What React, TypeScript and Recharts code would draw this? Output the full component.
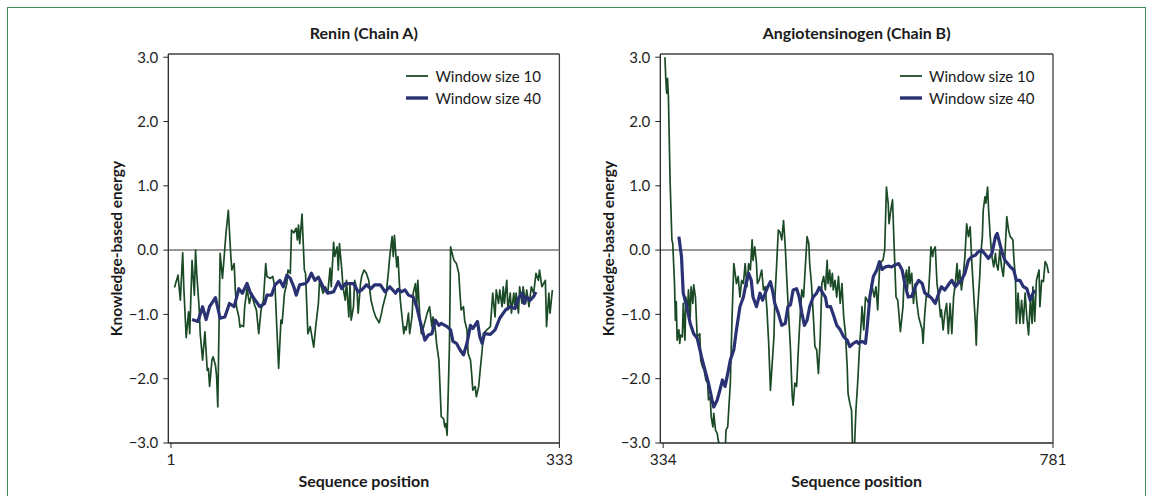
import React from "react";
import { LineChart, Line, XAxis, YAxis, ReferenceLine, Legend } from "recharts";

// [sequence position, knowledge-based energy]
const reninWin10: [number, number][] = [
  [4, -0.58], [7, -0.39], [9, -0.78], [11, -0.04], [12, -0.6], [14, -1.36], [16, -0.96], [17, -1.3],
  [19, -0.16], [21, -0.7], [22, 0.0], [23, -0.36], [25, -0.88], [26, -1.3], [28, -1.71], [30, -1.27],
  [32, -1.87], [33, -1.84], [34, -2.12], [36, -1.71], [37, -1.66], [39, -1.79], [40, -1.97], [41, -2.44],
  [43, -0.05], [45, -0.44], [46, -0.21], [48, 0.26], [50, 0.62], [52, -0.05], [53, -0.31], [55, -0.21],
  [56, -0.62], [57, -0.88], [59, -1.04], [60, -1.2], [61, -1.17], [63, -1.19], [64, -0.88], [66, -0.6],
  [68, -0.83], [70, -0.67], [72, -0.83], [74, -0.93], [76, -1.3], [78, -0.93], [80, -0.78], [82, -0.21],
  [83, -0.41], [86, -0.44], [88, -0.41], [90, -0.6], [93, -1.84], [95, -1.09], [96, -1.14], [98, -0.67],
  [100, -0.52], [101, -0.31], [103, -0.36], [104, 0.31], [106, 0.27], [108, 0.34], [109, 0.16], [110, 0.39],
  [111, 0.1], [113, 0.56], [115, -0.31], [116, -0.36], [118, -1.3], [120, -1.19], [123, -1.51], [125, -1.14],
  [127, -0.83], [128, -0.47], [131, -0.67], [133, -0.57], [135, -0.67], [137, -0.28], [138, -0.57], [140, 0.12],
  [141, -0.1], [143, 0.05], [144, -0.31], [145, 0.1], [147, -0.31], [148, -0.57], [150, -0.78], [151, -0.47],
  [153, -1.04], [154, -0.52], [155, -1.09], [157, -0.88], [158, -0.47], [160, -0.62], [161, -0.98], [163, -0.52],
  [164, -0.41], [166, -0.31], [168, -0.36], [170, -0.47], [172, -0.78], [174, -0.93], [176, -1.04], [179, -1.13],
  [181, -0.98], [182, -0.88], [185, -0.67], [187, -0.31], [188, -0.1], [190, 0.21], [191, -0.1], [192, 0.23],
  [194, -0.26], [195, -0.1], [197, -0.78], [200, -1.3], [201, -1.19], [202, -1.24], [204, -0.98], [205, -1.3],
  [207, -1.04], [208, -0.67], [210, -0.52], [211, -0.88], [212, -0.47], [214, -1.14], [215, -1.3], [217, -1.19],
  [220, -0.98], [222, -0.88], [224, -1.19], [225, -1.04], [227, -1.24], [228, -1.45], [230, -1.71], [232, -2.59],
  [234, -2.62], [235, -2.75], [236, -2.7], [237, -2.88], [239, -1.5], [240, 0.05], [242, -0.1], [243, -0.16],
  [245, -0.21], [247, -0.36], [248, -0.67], [249, -0.93], [251, -0.88], [252, -1.09], [254, -1.24], [255, -1.61],
  [257, -1.71], [258, -1.92], [259, -2.18], [261, -2.12], [262, -2.28], [264, -2.12], [265, -1.92], [267, -1.55],
  [268, -1.3], [271, -1.24], [274, -1.19], [276, -0.67], [278, -1.04], [279, -0.62], [281, -0.83], [282, -0.62],
  [284, -0.88], [285, -0.57], [286, -0.83], [288, -0.47], [289, -0.93], [291, -0.67], [292, -0.98], [294, -0.67],
  [295, -0.88], [296, -0.67], [298, -0.98], [299, -0.57], [301, -0.83], [302, -0.57], [304, -0.83], [305, -0.62],
  [307, -0.88], [309, -0.57], [311, -0.67], [313, -0.36], [315, -0.47], [316, -0.31], [318, -0.57], [321, -0.47],
  [322, -1.19], [324, -0.67], [325, -0.98], [327, -0.62],
];

const reninWin40: [number, number][] = [
  [19, -1.08], [24, -1.11], [28, -0.88], [31, -1.08], [34, -0.88], [39, -0.74], [43, -1.06], [47, -1.04],
  [51, -0.83], [55, -0.88], [59, -0.6], [62, -0.67], [66, -0.52], [69, -0.67], [73, -0.78], [77, -0.88],
  [81, -0.83], [83, -0.7], [87, -0.7], [90, -0.54], [94, -0.47], [97, -0.57], [100, -0.39], [103, -0.44],
  [106, -0.57], [108, -0.7], [111, -0.54], [116, -0.52], [118, -0.48], [121, -0.36], [124, -0.47], [127, -0.42],
  [131, -0.57], [135, -0.67], [140, -0.65], [144, -0.49], [147, -0.6], [150, -0.52], [154, -0.52], [157, -0.52],
  [161, -0.65], [164, -0.62], [168, -0.54], [172, -0.6], [175, -0.54], [180, -0.54], [184, -0.65], [188, -0.57],
  [193, -0.67], [195, -0.61], [198, -0.65], [201, -0.62], [204, -0.7], [208, -0.73], [211, -0.88], [214, -1.11],
  [218, -1.4], [221, -1.32], [224, -1.3], [227, -1.09], [230, -1.17], [232, -1.14], [237, -1.19], [240, -1.24],
  [242, -1.42], [245, -1.45], [248, -1.55], [251, -1.63], [254, -1.45], [257, -1.17], [259, -1.22], [263, -1.11],
  [265, -1.35], [267, -1.45], [269, -1.3], [274, -1.31], [278, -1.24], [282, -1.06], [287, -0.93], [291, -0.88],
  [295, -0.91], [298, -0.75], [301, -0.67], [303, -0.83], [305, -0.73], [308, -0.78], [311, -0.72], [313, -0.65],
];

const angioWin10: [number, number][] = [
  [336, 3.0], [337, 2.67], [338, 2.44], [339, 2.67], [340, 2.38], [342, 1.04], [344, 0.16], [345, 0.1],
  [347, -0.52], [348, -1.09], [349, -0.8], [350, -1.4], [352, -1.24], [353, -1.45], [354, -1.32], [356, -1.35],
  [357, -0.83], [359, -1.4], [360, -0.73], [362, -0.93], [363, -0.62], [365, -1.04], [366, -0.57], [368, -0.83],
  [369, -0.54], [371, -0.73], [373, -1.35], [376, -1.3], [377, -1.71], [379, -1.81], [381, -1.87], [383, -2.02],
  [385, -2.07], [386, -2.33], [388, -2.28], [389, -2.59], [391, -2.75], [392, -2.54], [394, -2.8], [396, -2.85],
  [397, -2.95], [399, -3.06], [402, -3.3], [405, -3.2], [406, -2.8], [408, -2.75], [411, -2.07], [413, -1.04],
  [415, -0.21], [417, -0.41], [418, -0.52], [420, -0.41], [422, -0.73], [424, -0.47], [426, -0.52], [428, -0.21],
  [430, -0.57], [432, -0.21], [434, -0.31], [436, 0.16], [437, -0.16], [439, 0.05], [441, -0.21], [442, -0.52],
  [444, -0.47], [447, -0.31], [449, -0.62], [451, -0.57], [453, -0.93], [455, -1.45], [457, -2.18], [461, -1.35],
  [462, -0.78], [464, -0.26], [466, 0.31], [468, 0.28], [470, 0.16], [472, 0.46], [474, 0.05], [476, -0.52],
  [478, -1.04], [480, -1.55], [482, -2.28], [483, -2.41], [485, -2.07], [487, -2.12], [489, -1.55], [491, -1.04],
  [493, -0.62], [495, -0.73], [497, -0.26], [499, 0.21], [501, 0.1], [502, -0.21], [504, -0.52], [506, -0.98],
  [508, -1.5], [510, -1.55], [512, -1.92], [514, -1.4], [516, -0.52], [518, -0.41], [520, -0.62], [522, -0.16],
  [523, -0.52], [525, -0.31], [526, -0.57], [528, -0.36], [529, -0.62], [531, -0.47], [533, -0.73], [535, -0.41],
  [537, -0.83], [539, -0.52], [541, -1.04], [543, -1.3], [545, -1.81], [546, -2.23], [548, -2.38], [550, -2.49],
  [551, -3.0], [553, -3.2], [555, -2.49], [557, -2.07], [559, -1.55], [561, -1.14], [562, -0.88], [564, -1.24],
  [566, -0.73], [568, -0.78], [570, -0.83], [573, -0.52], [576, -0.73], [578, -0.57], [580, -0.93], [582, -0.31],
  [584, -0.18], [586, -0.16], [588, 0.0], [590, 0.98], [592, 0.73], [593, 0.41], [595, 0.62], [597, 0.78],
  [599, 0.0], [601, -0.73], [603, -0.78], [606, -1.27], [609, -0.88], [610, -0.52], [613, -0.31], [614, -0.62],
  [616, -0.26], [617, -0.52], [619, -0.36], [621, -0.83], [623, -0.52], [625, -0.83], [627, -1.04], [629, -1.14],
  [631, -1.24], [632, -1.45], [634, -0.98], [636, -0.67], [638, -0.73], [640, -0.26], [641, 0.05], [643, -0.1],
  [644, 0.0], [646, 0.05], [648, -0.52], [650, -0.73], [652, -1.04], [653, -0.93], [655, -1.24], [657, -0.98],
  [659, -0.83], [661, -1.3], [663, -0.83], [665, -1.3], [667, -0.73], [669, -0.52], [671, -0.21], [672, -0.52],
  [674, -0.31], [676, -0.62], [678, -0.41], [680, -0.1], [682, 0.41], [684, 0.21], [686, 0.36], [688, -0.21],
  [690, -0.67], [692, -1.14], [693, -1.48], [694, -1.04], [697, -0.41], [698, -0.1], [700, 0.21], [701, 0.62],
  [703, 0.83], [704, 0.73], [706, 0.98], [707, 0.67], [709, 0.21], [711, -0.1], [713, -0.26], [715, -0.05],
  [716, -0.21], [718, -0.31], [720, 0.0], [722, -0.26], [724, -0.41], [726, -0.05], [728, 0.52], [730, 0.31],
  [732, 0.21], [735, 0.16], [736, -0.1], [738, -0.47], [739, -1.14], [741, -0.67], [743, -1.14], [745, -0.78],
  [747, -1.14], [749, -0.67], [751, -1.04], [753, -1.32], [755, -0.78], [757, -1.14], [758, -0.57], [760, -1.11],
  [762, -0.47], [765, -0.31], [766, -0.88], [768, -0.47], [770, -0.49], [772, -0.18], [774, -0.23], [776, -0.36],
];

const angioWin40: [number, number][] = [
  [352, 0.21], [355, -0.1], [357, -0.67], [361, -0.88], [365, -1.14], [369, -1.3], [373, -1.37], [378, -1.66],
  [382, -1.87], [386, -2.07], [390, -2.33], [392, -2.44], [396, -2.33], [399, -2.18], [402, -2.02], [405, -2.12],
  [408, -1.92], [411, -1.71], [415, -1.55], [418, -1.24], [422, -0.88], [426, -0.73], [429, -0.52], [432, -0.36],
  [435, -0.47], [437, -0.73], [441, -0.88], [445, -0.67], [448, -0.78], [451, -0.67], [454, -0.57], [457, -0.49],
  [460, -0.67], [462, -0.83], [466, -0.98], [470, -1.17], [474, -1.14], [477, -0.88], [480, -0.85], [483, -0.62],
  [487, -0.6], [490, -0.73], [493, -0.98], [496, -1.17], [499, -1.09], [502, -0.88], [506, -0.73], [510, -0.67],
  [513, -0.58], [517, -0.67], [520, -0.73], [522, -0.88], [526, -0.88], [530, -1.04], [533, -1.17], [537, -1.24],
  [541, -1.35], [545, -1.4], [548, -1.5], [552, -1.45], [556, -1.42], [558, -1.45], [562, -1.42], [566, -1.45],
  [568, -1.19], [571, -0.73], [575, -0.41], [579, -0.31], [582, -0.18], [585, -0.3], [589, -0.26], [592, -0.25],
  [596, -0.26], [600, -0.23], [604, -0.21], [608, -0.31], [611, -0.52], [615, -0.73], [619, -0.72], [623, -0.57],
  [627, -0.47], [631, -0.52], [634, -0.67], [638, -0.7], [642, -0.75], [646, -0.83], [650, -0.67], [653, -0.57],
  [657, -0.62], [661, -0.54], [665, -0.47], [669, -0.57], [672, -0.52], [676, -0.47], [680, -0.36], [684, -0.16],
  [688, -0.1], [692, -0.08], [695, -0.03], [699, 0.0], [703, -0.06], [707, -0.13], [711, -0.05], [715, 0.21],
  [717, 0.26], [720, 0.1], [723, -0.05], [726, -0.16], [729, -0.21], [732, -0.26], [736, -0.31], [739, -0.47],
  [743, -0.47], [747, -0.57], [751, -0.6], [755, -0.78], [758, -0.67], [760, -0.62],
];

const energyTicks = [-3, -2, -1, 0, 1, 2, 3];
const reninTicks = [1, 333];
const angioTicks = [334, 781];
const seriesNames = ["Window size 10", "Window size 40"];

const GREEN = "#1b4a26";
const NAVY = "#2a3274";
const AXIS = "#262626";
const FONT = "Lato, 'Open Sans', sans-serif";

const toRows = (pairs: [number, number][]) => pairs.map(([pos, energy]) => ({ pos, energy }));

const fmtEnergy = (v: number) => (v < 0 ? "\u2212" : "") + Math.abs(v).toFixed(1);

const LegendBox = () => (
  <div style={{ fontSize: 15, lineHeight: "22px", color: "#1a1a1a", fontFamily: FONT }}>
    {seriesNames.map((name, i) => (
      <div key={name} style={{ display: "flex", alignItems: "center", whiteSpace: "nowrap" }}>
        <svg width={22} height={6}>
          <line x1={0} y1={3} x2={22} y2={3} stroke={i === 0 ? GREEN : NAVY} strokeWidth={i === 0 ? 1.8 : 3.4} />
        </svg>
        <span style={{ marginLeft: 7 }}>{name}</span>
      </div>
    ))}
  </div>
);

const yTitle = (props: any) => {
  const vb = props.viewBox || {};
  const x = vb.x + 10;
  const y = vb.y + vb.height / 2;
  return (
    <text x={x} y={y} transform={`rotate(-90, ${x}, ${y})`} textAnchor="middle" dominantBaseline="central"
      fontSize={15.5} fontWeight={700} fill="#1a1a1a">
      Knowledge-based energy
    </text>
  );
};

const xTitle = (props: any) => {
  const vb = props.viewBox || {};
  return (
    <text x={vb.x + vb.width / 2} y={vb.y + 37} textAnchor="middle" dominantBaseline="central"
      fontSize={16} fontWeight={700} fill="#1a1a1a">
      Sequence position
    </text>
  );
};

type PanelProps = {
  title: string;
  short: [number, number][];
  long: [number, number][];
  xDomain: [number, number];
  xTicks: number[];
  left: number;
  width: number;
  margin: { top: number; right: number; bottom: number; left: number };
};

const Y_AXIS_W = 62;

function Panel({ title, short, long, xDomain, xTicks, left, width, margin }: PanelProps) {
  const plotLeft = margin.left + Y_AXIS_W;
  const plotRight = width - margin.right;
  return (
    <div style={{ position: "absolute", left, top: 0, width, height: 496 }}>
      <div style={{ position: "absolute", top: 22, left: plotLeft, width: plotRight - plotLeft, textAlign: "center",
        fontSize: 16, fontWeight: 700, lineHeight: "22px", color: "#1a1a1a" }}>
        {title}
      </div>
      <LineChart width={width} height={496} margin={margin}>
        <XAxis type="number" dataKey="pos" domain={xDomain} ticks={xTicks} allowDataOverflow interval={0}
          height={30} tickSize={5} tickMargin={6} tick={{ fill: "#1f1f1f", fontSize: 15.5 }}
          tickLine={{ stroke: AXIS }} axisLine={{ stroke: AXIS, strokeWidth: 1.3 }} label={xTitle} />
        <YAxis type="number" dataKey="energy" domain={[-3, 3.05]} ticks={energyTicks} allowDataOverflow interval={0}
          width={Y_AXIS_W} tickSize={5} tickMargin={5} tickFormatter={fmtEnergy} tick={{ fill: "#1f1f1f", fontSize: 15 }}
          tickLine={{ stroke: AXIS }} axisLine={{ stroke: AXIS, strokeWidth: 1.3 }} label={yTitle} />
        <ReferenceLine y={3.05} stroke="#404040" strokeWidth={1.3} />
        <ReferenceLine x={xDomain[1]} stroke="#404040" strokeWidth={1.3} />
        <ReferenceLine y={0} stroke="#767676" strokeWidth={1.5} />
        <Legend layout="vertical" align="center" verticalAlign="middle" content={LegendBox}
          wrapperStyle={{ left: plotRight - 153, top: 65, width: "auto", height: "auto" }} />
        <Line data={toRows(short)} dataKey="energy" name={seriesNames[0]} type="linear" stroke={GREEN}
          strokeWidth={1.7} dot={false} activeDot={false} isAnimationActive={false} strokeLinejoin="round" />
        <Line data={toRows(long)} dataKey="energy" name={seriesNames[1]} type="linear" stroke={NAVY}
          strokeWidth={3.2} dot={false} activeDot={false} isAnimationActive={false} strokeLinejoin="round" />
      </LineChart>
    </div>
  );
}

export default function App() {
  return (
    <div style={{ position: "absolute", left: 0, top: 0, width: 1152, height: 496, overflow: "hidden",
      background: "#fff", fontFamily: FONT }}>
      <div style={{ position: "absolute", left: 7, top: 7, width: 1137, height: 560, border: "1.5px solid #3f8d5e" }} />
      <Panel title="Renin (Chain A)" short={reninWin10} long={reninWin40} xDomain={[-1.3, 333]} xTicks={reninTicks}
        left={0} width={580} margin={{ top: 54, right: 20.6, bottom: 23, left: 106.3 }} />
      <Panel title="Angiotensinogen (Chain B)" short={angioWin10} long={angioWin40} xDomain={[330.7, 781]}
        xTicks={angioTicks} left={580} width={572} margin={{ top: 54, right: 99, bottom: 23, left: 18.3 }} />
    </div>
  );
}
